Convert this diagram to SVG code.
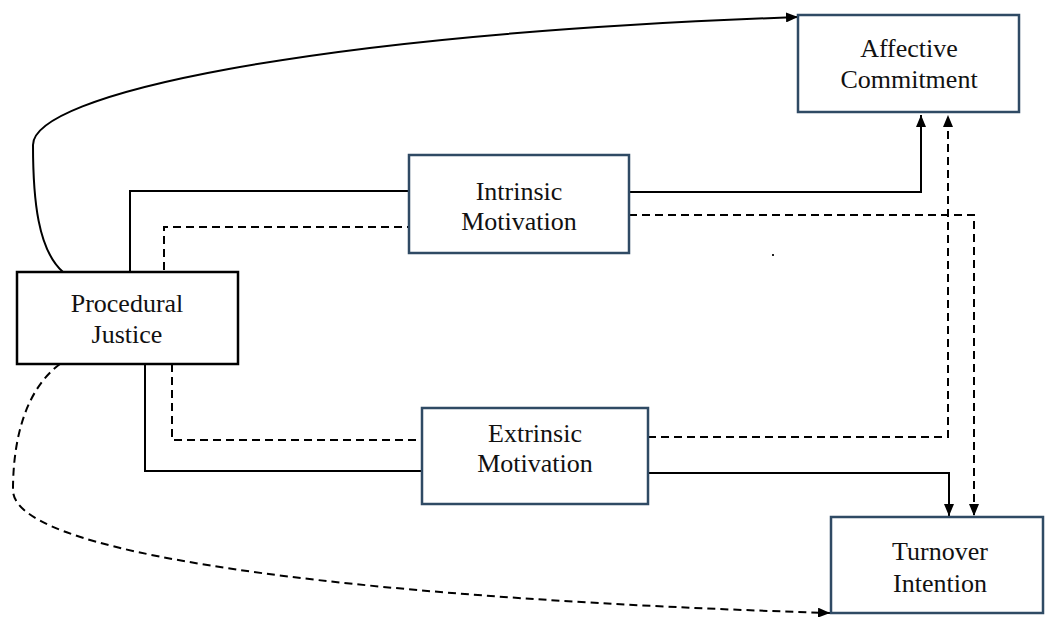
<svg xmlns="http://www.w3.org/2000/svg" width="1048" height="617" viewBox="0 0 1048 617">
<defs>
<style>
.box{fill:#fff;stroke:#2f4a64;stroke-width:2.5}
.pj{fill:#fff;stroke:#000;stroke-width:2.5}
.lbl{font-family:'Liberation Serif',Tinos,'Times New Roman','DejaVu Serif',serif;font-size:26px;fill:#111;text-anchor:middle}
.c{fill:none;stroke:#000;stroke-width:2}
.d{stroke-dasharray:8 5}
</style>
<marker id="ah" viewBox="0 0 12 10" refX="12" refY="5" markerWidth="12" markerHeight="10" markerUnits="userSpaceOnUse" orient="auto">
<path d="M0,0 L12,5 L0,10 Z" fill="#000"/>
</marker>
</defs>
<rect width="1048" height="617" fill="#fff"/>
<g id="connectors">
<path class="c" d="M63,272 C38,250 33,200 33,145 C33,95 300,35 798,17" marker-end="url(#ah)"/>
<path class="c" d="M130,272 V191 H409"/>
<path class="c d" d="M164,270 V227 H409"/>
<path class="c" d="M629,192 H921 V115" marker-end="url(#ah)"/>
<path class="c d" d="M629,215 H974 V516" marker-end="url(#ah)"/>
<path class="c" d="M145,360 V471 H422"/>
<path class="c d" d="M172,364 V440 H422"/>
<path class="c d" d="M648,437 H948 V115" marker-end="url(#ah)"/>
<path class="c" d="M648,473 H949 V516" marker-end="url(#ah)"/>
<path class="c d" d="M60,364 C25,390 13,440 13,490 C13,560 400,600 830,613" marker-end="url(#ah)"/>
<rect x="772" y="254" width="2" height="2" fill="#222"/>
</g>
<g id="affective">
<rect class="box" x="798" y="15" width="221" height="97"/>
<text class="lbl" x="909" y="57" font-family="Liberation Serif, serif">Affective</text>
<text class="lbl" x="909" y="88" font-family="Liberation Serif, serif">Commitment</text>
</g>
<g id="intrinsic">
<rect class="box" x="409" y="155" width="220" height="98"/>
<text class="lbl" x="519" y="200">Intrinsic</text>
<text class="lbl" x="519" y="230">Motivation</text>
</g>
<g id="procedural">
<rect class="pj" x="17" y="272" width="221" height="92"/>
<text class="lbl" x="127" y="312">Procedural</text>
<text class="lbl" x="127" y="343">Justice</text>
</g>
<g id="extrinsic">
<rect class="box" x="422" y="408" width="226" height="96"/>
<text class="lbl" x="535" y="442">Extrinsic</text>
<text class="lbl" x="535" y="472">Motivation</text>
</g>
<g id="turnover">
<rect class="box" x="831" y="517" width="212" height="96"/>
<text class="lbl" x="940" y="560">Turnover</text>
<text class="lbl" x="940" y="592">Intention</text>
</g>
</svg>
